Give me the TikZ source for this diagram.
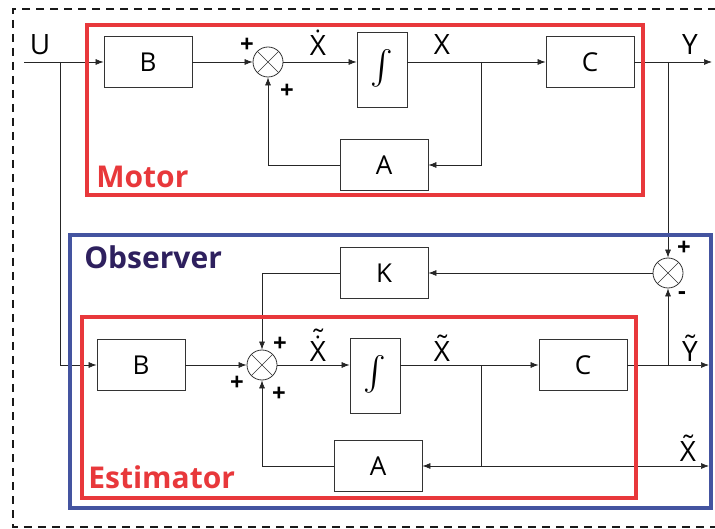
\documentclass[tikz,border=0pt]{standalone}
\usepackage{fontspec}
\setmainfont{Open Sans}
\usetikzlibrary{arrows.meta,positioning}
\definecolor{motorred}{RGB}{232,56,59}
\definecolor{obsblue}{RGB}{68,84,160}
\definecolor{obstext}{RGB}{46,32,94}
\newcommand{\intsign}{\resizebox{!}{40pt}{$\int$}}
\newcommand{\acc}[3]{\ooalign{#1\cr\hidewidth\raisebox{#3}{#2}\hidewidth\cr}}
\newcommand{\tld}[1]{\acc{#1}{\char"02DC}{0.2em}}
\newcommand{\dt}[1]{\acc{#1}{\char"02D9}{0.2em}}
\newcommand{\tlddt}[1]{\acc{\acc{#1}{\char"02D9}{0.17em}}{\char"02DC}{0.42em}}

\begin{document}
\begin{tikzpicture}[x=1pt, y=-1pt, >={Latex[length=8pt,width=6pt]},
  line width=0.7pt, draw=black!85,
  box/.style={draw=black!80, line width=0.8pt, inner sep=0pt,
    minimum width=88pt, minimum height=51pt, font=\fontsize{26}{26}\selectfont},
  intbox/.style={box, minimum width=50pt, minimum height=75pt},
  sum/.style={circle, draw=black!80, line width=0.8pt, minimum size=30pt, inner sep=0pt,
    path picture={\draw[line width=0.5pt]
      (path picture bounding box.north west) -- (path picture bounding box.south east)
      (path picture bounding box.north east) -- (path picture bounding box.south west);}},
  sig/.style={font=\fontsize{28}{28}\selectfont, inner sep=0pt},
  sgn/.style={font=\fontsize{24}{24}\selectfont\bfseries, inner sep=0pt},
  frame/.style={line width=4pt},
  title/.style={font=\fontsize{30}{30}\selectfont\bfseries, anchor=west, inner sep=0pt}]

\useasboundingbox (0,0) rectangle (715,529);

% plant
\node[box] (bt) at (148,62) {B};
\node[sum] (st) at (268,62) {};
\node[intbox] (it) at (382,70) {\intsign};
\node[box] (ct) at (590,62) {C};
\node[box] (at) at (384,165) {A};

% observer
\node[sum] (so) at (668,273) {};
\node[box] (k) at (384,273) {K};
\node[box] (bb) at (141,365) {B};
\node[sum] (sb) at (262,365) {};
\node[intbox] (ib) at (375,376) {\intsign};
\node[box] (cb) at (583,365) {C};
\node[box] (ab) at (378,466) {A};

\coordinate (uin) at (24,62);
\coordinate (usplit) at (60,62);
\coordinate (xt) at (481,62);
\coordinate (ysplit) at (668,62);
\coordinate (yout) at (712,62);
\coordinate (xb) at (481,365);
\coordinate (ysb) at (668,365);
\coordinate (yeout) at (709,365);
\coordinate (xe) at (481,466);
\coordinate (xeout) at (709,466);

% top loop
\draw (uin) -- (usplit);
\draw[->] (usplit) -- (bt.west);
\draw[->] (usplit) |- (bb.west);
\draw[->] (bt) -- (st);
\draw[->] (st) -- (st -| it.west);
\draw (it.east |- st) -- (xt);
\draw[->] (xt) -- (ct.west);
\draw[->] (xt) |- (at.east);
\draw[->] (at.west) -| (st.south);
\draw[->] (ct.east) -- (yout);
\draw[->] (ysplit) -- (so.north);

% estimator loop
\draw[->] (so) -- (k);
\draw[->] (k.west) -| (sb.north);
\draw[->] (bb) -- (sb);
\draw[->] (sb) -- (sb -| ib.west);
\draw (ib.east |- sb) -- (xb);
\draw[->] (xb) -- (cb.west);
\draw (xb) -- (xe);
\draw[->] (xe) -- (ab.east);
\draw[->] (xe) -- (xeout);
\draw[->] (ab.west) -| (sb.south);
\draw[->] (cb.east) -- (yeout);
\draw[->] (ysb) -- (so.south);

% frames
\draw[line width=2pt, draw=black!90, dash pattern=on 8pt off 6pt]
  (716,9) -- (13,9) -- (13,527) -- (716,527);
\draw[frame, motorred] (87,25) rectangle (643,195);
\draw[frame, obsblue] (70,235) rectangle (711,508);
\draw[frame, motorred] (82,317) rectangle (636,498);

% labels
\node[sig] (lu) at (40,45) {U};
\node[sgn] (p1) at (247,45) {+};
\node[sgn] (p2) at (287,91) {+};
\node[sig, anchor=base] (lxd) at (318,56) {\dt{X}};
\node[sig] (lx) at (442,45) {X};
\node[sig] (ly) at (690,45) {Y};
\node[sgn] (p3) at (684,248) {+};
\node[sgn] (m1) at (682,296) {-};
\node[sgn] (p4) at (280,344) {+};
\node[sgn] (p5) at (237,383) {+};
\node[sgn] (p6) at (279,394) {+};
\node[sig, anchor=base] (lxed) at (318,361) {\tlddt{X}};
\node[sig, anchor=base] (lxe) at (442,361) {\tld{X}};
\node[sig, anchor=base] (lye) at (690,361) {\tld{Y}};
\node[sig, anchor=base] (lxo) at (688,461) {\tld{X}};
\node[title, text=motorred] (motor) at (96,177) {Motor};
\node[title, text=obstext] (obs) at (84,257) {Observer};
\node[title, text=motorred] (est) at (88,477) {Estimator};
\end{tikzpicture}
\end{document}
